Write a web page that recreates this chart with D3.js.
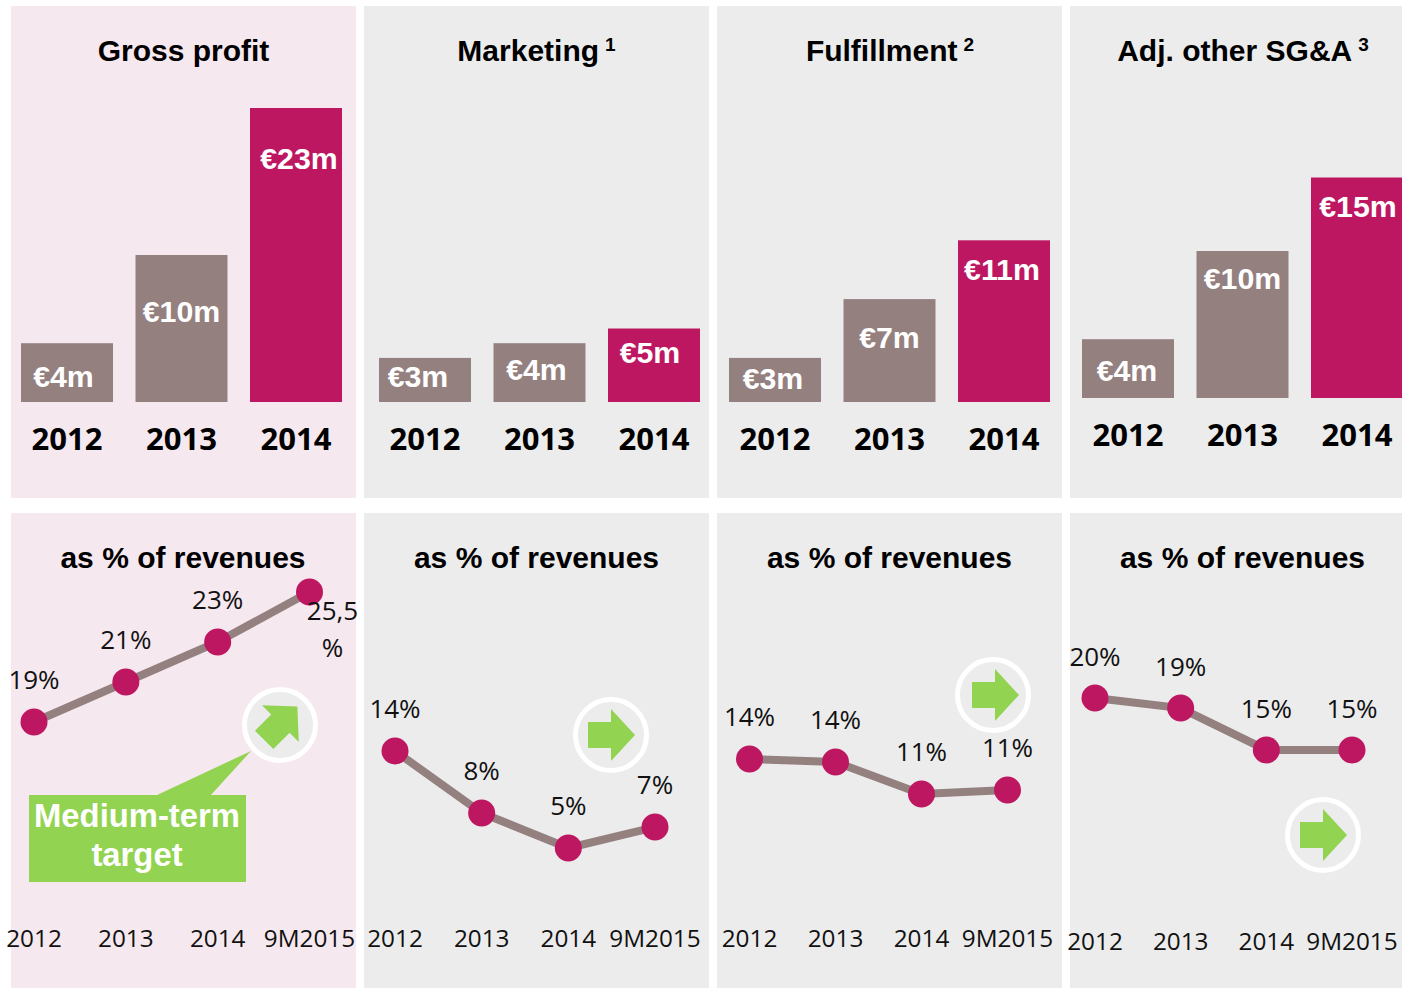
<!DOCTYPE html>
<html><head><meta charset="utf-8">
<style>html,body{margin:0;padding:0;background:#fff}svg{display:block}</style>
<script src="https://cdn.jsdelivr.net/npm/d3@7/dist/d3.min.js"></script>
</head><body><svg id="c" width="1402" height="988"></svg>
<script>
// ---- data ----
const barYears = ["2012","2013","2014"];
const lineYears = ["2012","2013","2014","9M2015"];
const panelTitles = ["Gross profit","Marketing","Fulfillment","Adj. other SG&A"];
const panelNotes = ["","1","2","3"];
const subTitle = "as % of revenues";
// bar heights as drawn (the 23m bar is drawn truncated in the source)
const grossBars = [4,10,20];
const marketingBars = [3,4,5];
const fulfillmentBars = [3,7,11];
const sgaBars = [4,10,15];
const grossBarLabels = ["€4m","€10m","€23m"];
const marketingBarLabels = ["€3m","€4m","€5m"];
const fulfillmentBarLabels = ["€3m","€7m","€11m"];
const sgaBarLabels = ["€4m","€10m","€15m"];
const grossPct = [19,21,23,25.5];
const marketingPct = [14,8.26,5.02,6.96];
const fulfillmentPct = [14,13.72,10.76,11.13];
const sgaPct = [20,19.07,15.19,15.19];
const grossPctLabels = ["19%","21%","23%",""];
const marketingPctLabels = ["14%","8%","5%","7%"];
const fulfillmentPctLabels = ["14%","14%","11%","11%"];
const sgaPctLabels = ["20%","19%","15%","15%"];
const calloutLines = ["Medium-term","target"];

// ---- layout & style ----
const C = {grey:"#ececec",pink:"#f6e8ef",bar:"#958080",hot:"#be1761",green:"#92d351"};
const sans = "'Liberation Sans',Arial,sans-serif", open = "'Open Sans',sans-serif";
const layout = [
 {x:11,w:345,bg:C.pink,barX:21,base:402,yearY:439,lineX:[34,309.5],axisY:938,y0:722,y0v:19,ppu:20,arrow:[280,725,-45],ax:-1,lblOff:42.6,
  bars:grossBars,barL:grossBarLabels,pct:grossPct,pctL:grossPctLabels,
  lblDx:[-3.5,0,3],lblDy:[33,56,50],titleCx:183.5,subCx:183},
 {x:364,w:345,bg:C.grey,barX:379,base:402,yearY:439,lineX:[395,655],axisY:938,y0:751,y0v:14,ppu:10.8,arrow:[611,735,0],ax:-2,lblOff:42.4,
  bars:marketingBars,barL:marketingBarLabels,pct:marketingPct,pctL:marketingPctLabels,
  lblDx:[-7,-3,-4],lblDy:[18,26,24],titleCx:536.5,subCx:536.5},
 {x:717,w:345,bg:C.grey,barX:729,base:402,yearY:439,lineX:[749.5,1007.5],axisY:938,y0:759,y0v:14,ppu:10.8,arrow:[993,695,0],ax:0,lblOff:42.6,
  bars:fulfillmentBars,barL:fulfillmentBarLabels,pct:fulfillmentPct,pctL:fulfillmentPctLabels,
  lblDx:[-2,0,-2],lblDy:[20,38,28.5],titleCx:890,subCx:889.5},
 {x:1070,w:332,bg:C.grey,barX:1082,base:398,yearY:435,lineX:[1095,1352],axisY:941,y0:698,y0v:20,ppu:10.8,arrow:[1323,835,0],ax:-2,lblOff:41.6,
  bars:sgaBars,barL:sgaBarLabels,pct:sgaPct,pctL:sgaPctLabels,
  lblDx:[-1,0,1],lblDy:[31,27.5,28.5],titleCx:1243,subCx:1242.5}
];
const barH = d3.scaleLinear().domain([0,20]).range([0,294]);
const arrowShape = [[-21,-13],[2,-13],[2,-26],[26,0],[2,26],[2,13],[-21,13]];

const svg = d3.select("#c");
svg.append("g").selectAll("rect").data(layout).join("rect")
  .attr("x",d=>d.x).attr("y",6).attr("width",d=>d.w).attr("height",492).attr("fill",d=>d.bg);
svg.append("g").selectAll("rect").data(layout).join("rect")
  .attr("x",d=>d.x).attr("y",513).attr("width",d=>d.w).attr("height",475).attr("fill",d=>d.bg);

layout.forEach((p,pi)=>{
  const g = svg.append("g");
  // title
  const t = g.append("text").attr("x",p.titleCx).attr("y",61).attr("text-anchor","middle")
    .attr("font-family",sans).attr("font-weight","700").attr("font-size",30).attr("fill","#000");
  t.append("tspan").text(panelTitles[pi]);
  if(panelNotes[pi]) t.append("tspan").attr("font-size",19).attr("dx",6).attr("dy",-10).text(panelNotes[pi]);

  // bars
  const xB = d3.scaleBand().domain(barYears).range([p.barX,p.barX+321]).paddingInner(0.1965).paddingOuter(0);
  g.selectAll("rect.b").data(p.bars).join("rect").attr("class","b")
    .attr("x",(d,i)=>xB(barYears[i])).attr("width",xB.bandwidth())
    .attr("y",d=>p.base-barH(d)).attr("height",d=>barH(d))
    .attr("fill",(d,i)=>i===2?C.hot:C.bar);
  g.selectAll("text.bl").data(p.barL).join("text").attr("class","bl")
    .attr("x",(d,i)=>xB(barYears[i])+xB.bandwidth()/2+p.lblDx[i])
    .attr("y",(d,i)=>p.base-barH(p.bars[i])+p.lblDy[i])
    .attr("dy","0.36em").attr("text-anchor","middle").attr("fill","#fff")
    .attr("font-family",sans).attr("font-weight","700").attr("font-size",30.3).text(d=>d);
  const ax = g.append("g").attr("transform",`translate(0,${p.yearY-22})`)
    .call(d3.axisBottom(xB).tickSize(0).tickPadding(0));
  ax.select(".domain").remove();
  ax.selectAll("text").attr("font-family",open).attr("font-weight","700").attr("font-size",31).attr("fill","#000")
    .attr("dy","0.36em").attr("y",22);

  // subtitle
  g.append("text").attr("x",p.subCx).attr("y",568).attr("text-anchor","middle")
    .attr("font-family",sans).attr("font-weight","700").attr("font-size",30).attr("fill","#000").text(subTitle);

  // line
  const xL = d3.scalePoint().domain(lineYears).range(p.lineX);
  const yL = d3.scaleLinear().domain([p.y0v,p.y0v-1]).range([p.y0,p.y0+p.ppu]);
  const line = d3.line().x((d,i)=>xL(lineYears[i])).y(d=>yL(d));
  g.append("path").attr("d",line(p.pct)).attr("fill","none").attr("stroke",C.bar).attr("stroke-width",8);
  g.selectAll("circle.pt").data(p.pct).join("circle").attr("class","pt")
    .attr("cx",(d,i)=>xL(lineYears[i])).attr("cy",d=>yL(d)).attr("r",13.5).attr("fill",C.hot);
  g.selectAll("text.pl").data(p.pctL).join("text").attr("class","pl")
    .attr("x",(d,i)=>xL(lineYears[i])).attr("y",(d,i)=>yL(p.pct[i])-p.lblOff)
    .attr("dy","0.36em").attr("text-anchor","middle").attr("fill","#111")
    .attr("font-family",open).attr("font-size",26).text(d=>d);
  const axL = g.append("g").attr("transform",`translate(-0.5,${p.axisY-20})`)
    .call(d3.axisBottom(xL).tickSize(0).tickPadding(0));
  axL.select(".domain").remove();
  axL.selectAll("text").attr("font-family",open).attr("font-size",24.3).attr("fill","#111")
    .attr("dy","0.36em").attr("y",20);

  // trend badge
  const b = g.append("g").attr("transform",`translate(${p.arrow[0]},${p.arrow[1]})`);
  b.append("circle").attr("r",35.5).attr("fill",C.grey).attr("stroke","#fff").attr("stroke-width",5);
  b.append("polygon").attr("transform",`translate(${p.ax},0) rotate(${p.arrow[2]})`)
    .attr("points",arrowShape.map(q=>q.join(",")).join(" ")).attr("fill",C.green);
});

// wrapped last label of the first panel
[["25,5",611],["%",648]].forEach(([s,y])=>{
  svg.append("text").attr("x",332.5).attr("y",y).attr("dy","0.36em").attr("text-anchor","middle")
    .attr("font-family",open).attr("font-size",26).attr("fill","#111").text(s);
});

// callout
const co = svg.append("g");
co.append("polygon").attr("points","155,796 251,751 210,796").attr("fill",C.green);
co.append("rect").attr("x",29).attr("y",795).attr("width",217).attr("height",87).attr("fill",C.green);
co.selectAll("text").data(calloutLines).join("text")
  .attr("x",137).attr("y",(d,i)=>815+i*39).attr("dy","0.36em").attr("text-anchor","middle")
  .attr("font-family",sans).attr("font-weight","700").attr("font-size",32.8).attr("fill","#fff").text(d=>d);
</script></body></html>
